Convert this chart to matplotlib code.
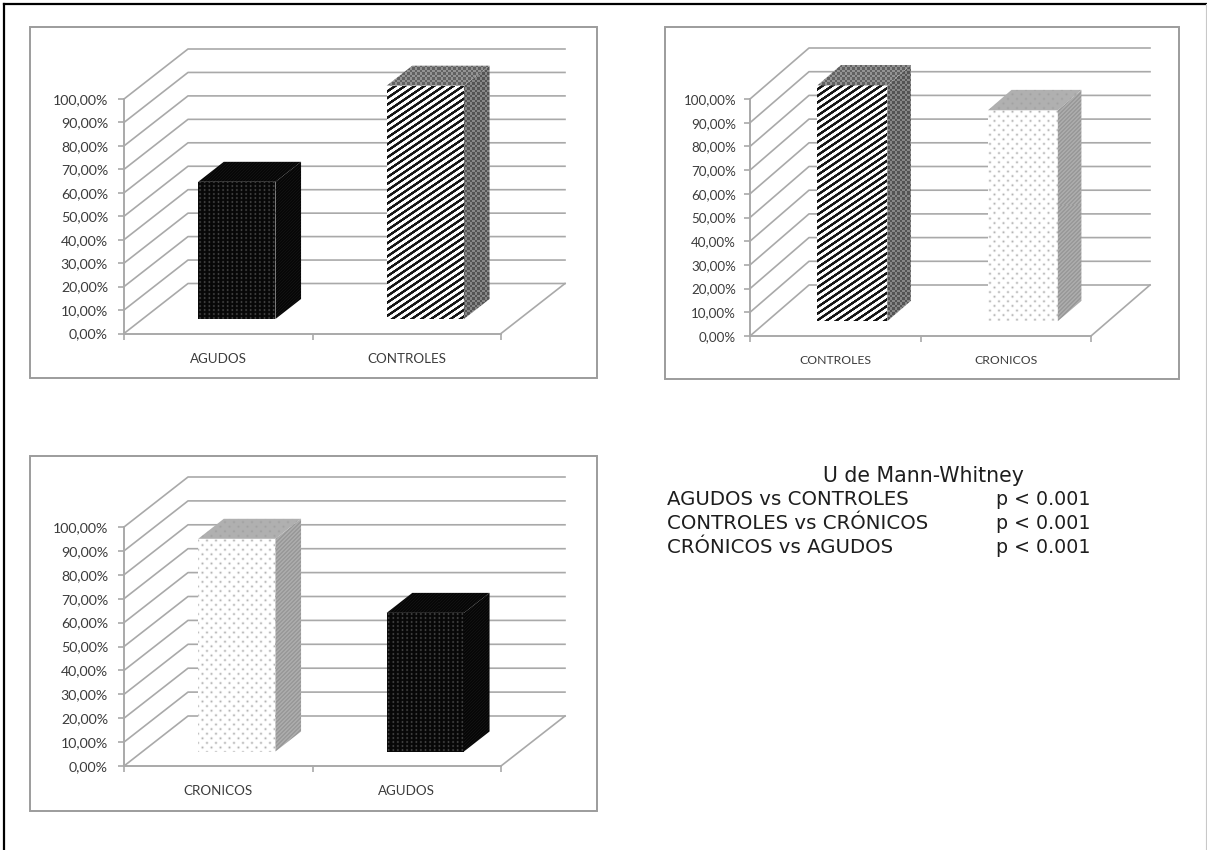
import numpy as np
import matplotlib
matplotlib.use("Agg")
import matplotlib.pyplot as plt
from matplotlib.lines import Line2D
from matplotlib.patches import Polygon, Rectangle

W, H = 1207, 850

# three comparisons, percentages read per group
cats_a = ["AGUDOS", "CONTROLES"]
vals_a = [58.5, 99.5]
cats_b = ["CONTROLES", "CRONICOS"]
vals_b = [99.5, 89.0]
cats_c = ["CRONICOS", "AGUDOS"]
vals_c = [89.0, 58.0]
y_ticks = list(range(0, 101, 10))
y_labels = ["%d,00%%" % v for v in y_ticks]

title = "U de Mann-Whitney"
pairs = ["AGUDOS vs CONTROLES", "CONTROLES vs CRÓNICOS", "CRÓNICOS vs AGUDOS"]
p_text = ["p < 0.001", "p < 0.001", "p < 0.001"]

GRID = "#a9a9a9"
TEXT = "#3c3c3c"
FRONT_D, BACK_D = 0.29, 0.69   # bar position along the floor depth
BAR_W = 0.41


def dots(xx, yy, px, py, sigma):
    # staggered dot grid, 0..1
    row = np.floor(yy / py)
    dx = (xx + (row % 2) * px / 2) % px - px / 2
    dy = yy % py - py / 2
    return np.exp(-(dx ** 2 + dy ** 2) / (2 * sigma ** 2))


def tex_black(xx, yy, face):
    if face == "front":
        col = ((xx % 4.6) - 2.3) ** 2 + ((yy % 4.0) - 2.0) ** 2
        return 0.03 + 0.3 * np.exp(-col / 0.8)
    return 0.03 + 0.04 * (((xx + yy) % 3) < 1)


def tex_stripes(xx, yy, face):
    if face == "front":
        s = (yy + 0.68 * xx) / 6.6
        return np.clip(0.5 + 1.6 * np.sin(2 * np.pi * s) + 0.2, 0.08, 1)
    check = (np.floor(xx / 2.5) + np.floor(yy / 2.5)) % 2
    base = 0.33 if face == "side" else 0.38
    return base + 0.2 * check


def tex_dots(xx, yy, face):
    if face == "front":
        return 1 - 0.3 * dots(xx, yy, 9.0, 4.6, 0.8)
    if face == "top":
        return 0.69 - 0.06 * dots(xx, yy, 9.0, 4.6, 0.8)
    return 0.6 + 0.07 * (((xx + yy) % 4) < 2)


TEXTURES = {"AGUDOS": tex_black, "CONTROLES": tex_stripes, "CRONICOS": tex_dots}


def textured_face(ax, pts, tex, face):
    poly = Polygon(pts, closed=True, transform=ax.transData, fc="none", ec="none")
    ax.add_patch(poly)
    disp = ax.transData.transform(pts)
    x0, x1 = int(np.floor(disp[:, 0].min())), int(np.ceil(disp[:, 0].max()))
    y0, y1 = int(np.floor(disp[:, 1].min())), int(np.ceil(disp[:, 1].max()))
    xx, yy = np.meshgrid(np.arange(x0, x1) + 0.5, H - (np.arange(y1, y0, -1) - 0.5))
    (ex0, ey0), (ex1, ey1) = ax.transData.inverted().transform([(x0, y0), (x1, y1)])
    im = ax.imshow(tex(xx, yy, face), cmap="gray", vmin=0, vmax=1, aspect="auto",
                   extent=(ex0, ex1, ey0, ey1), interpolation="nearest", zorder=3)
    im.set_clip_path(poly)


def draw_panel(fig, frame, origin, size, depth, cats, vals, tick_fs, cat_fs, tick_pad):
    # frame: left, top, right, bottom; origin: where 0 % meets the first category
    left, top, right, bottom = frame
    ox, oy = origin
    xu, yu = size[0] / 2.0, size[1] / 100.0
    ax = fig.add_axes([left / W, 1 - bottom / H, (right - left) / W, (bottom - top) / H])
    ax.set_xlim((left - ox) / xu, (right - ox) / xu)
    ax.set_ylim((oy - bottom) / yu, (oy - top) / yu)
    ax.autoscale(False)
    ax.patch.set_alpha(0)
    dx, dy = depth[0] / xu, depth[1] / yu

    # back wall and floor lines
    for v in y_ticks:
        ax.plot([0, dx, 2 + dx], [v, v + dy, v + dy], color=GRID, lw=1.2, zorder=1)
    ax.plot([2, 2 + dx], [0, dy], color=GRID, lw=1.2, zorder=1)

    for i, (cat, val) in enumerate(zip(cats, vals)):
        xa = i + 0.5 - BAR_W / 2
        xb = i + 0.5 + BAR_W / 2
        fx, fy = FRONT_D * dx, FRONT_D * dy
        bx, by = BACK_D * dx, BACK_D * dy
        tex = TEXTURES[cat]
        textured_face(ax, [(xa + fx, fy), (xb + fx, fy), (xb + fx, fy + val), (xa + fx, fy + val)], tex, "front")
        textured_face(ax, [(xb + fx, fy), (xb + bx, by), (xb + bx, by + val), (xb + fx, fy + val)], tex, "side")
        textured_face(ax, [(xa + fx, fy + val), (xb + fx, fy + val), (xb + bx, by + val), (xa + bx, by + val)], tex, "top")

    for name in ["top", "right"]:
        ax.spines[name].set_visible(False)
    for name in ["left", "bottom"]:
        ax.spines[name].set_position(("data", 0))
        ax.spines[name].set_color(GRID)
        ax.spines[name].set_linewidth(1.4)
    ax.spines["left"].set_bounds(0, 100)
    ax.spines["bottom"].set_bounds(0, 2)

    ax.set_yticks(y_ticks)
    ax.set_yticklabels(y_labels, fontsize=tick_fs, color=TEXT, family="Lato")
    ax.tick_params(axis="y", length=4, width=1.2, color=GRID, pad=tick_pad)
    ax.set_xticks([0, 1, 2])
    ax.set_xticklabels([])
    ax.tick_params(axis="x", which="major", length=4, width=1.2, color=GRID)
    ax.set_xticks([0.5, 1.5], minor=True)
    ax.set_xticklabels(cats, minor=True, fontsize=cat_fs, color=TEXT, family="Lato")
    ax.tick_params(axis="x", which="minor", length=0, pad=14)

    ax.add_patch(Rectangle((0, 0), 1, 1, transform=ax.transAxes, fill=False,
                           ec="#9c9c9c", lw=1.4, clip_on=False, zorder=5))


fig = plt.figure(figsize=(W / 100, H / 100), dpi=100, facecolor="white")

draw_panel(fig, (30, 27, 597, 378), (124, 333.5), (377, 234.5), (64, 50), cats_a, vals_a, 10.2, 9.6, 7.5)
draw_panel(fig, (665, 27, 1179, 379), (750, 336), (341, 237), (59, 51), cats_b, vals_b, 9.6, 8.8, 6)
draw_panel(fig, (30, 456, 597, 811), (124, 766), (377, 239), (64, 50), cats_c, vals_c, 10.2, 9.6, 7.5)

# page border
fig.add_artist(Line2D([4 / W, 4 / W], [0, 1 - 4 / H], color="black", lw=1.6))
fig.add_artist(Line2D([4 / W, 1], [1 - 4 / H, 1 - 4 / H], color="black", lw=1.6))
fig.add_artist(Line2D([1206 / W, 1206 / W], [0, 1 - 4 / H], color="#c8c8c8", lw=0.8))

# Mann-Whitney results
fs = 14.2
fig.text(923 / W, 1 - 482 / H, title, ha="center", va="baseline", fontsize=14.8, color="#1e1e1e")
for i, (pair, p) in enumerate(zip(pairs, p_text)):
    base = 1 - (505 + i * 24) / H
    fig.text(667 / W, base, pair, ha="left", va="baseline", fontsize=fs, color="#1e1e1e")
    fig.text(1091 / W, base, p, ha="right", va="baseline", fontsize=13.7, color="#1e1e1e")

fig.savefig("out.png", dpi=100)
